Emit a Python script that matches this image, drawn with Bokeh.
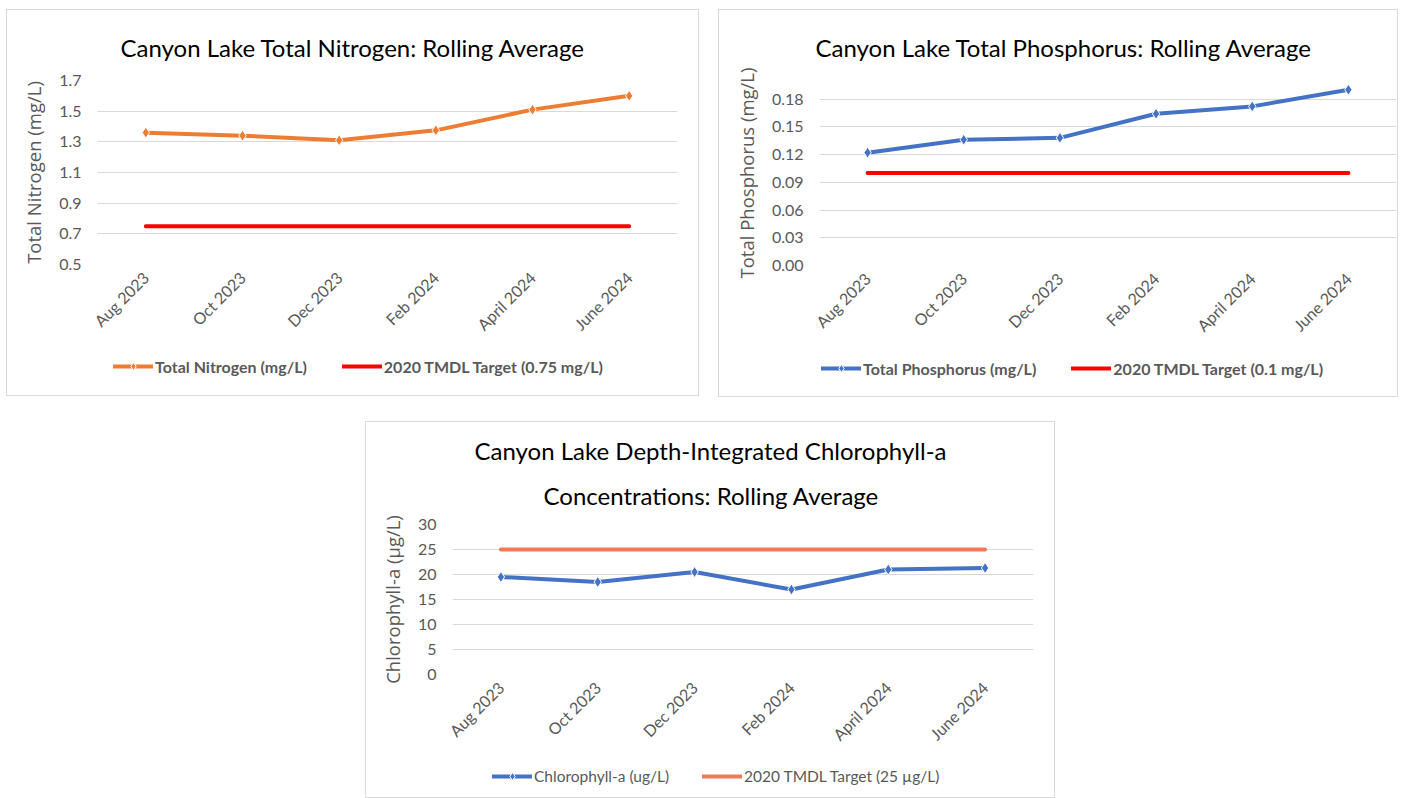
from bokeh.plotting import figure
from bokeh.models import (FixedTicker, NumeralTickFormatter, Legend, LegendItem,
                          Title, Spacer, Range1d)
from bokeh.layouts import row, column
from bokeh.embed import file_html
from bokeh.resources import INLINE
import math

# ---------------- data ----------------
months = ["Aug 2023", "Oct 2023", "Dec 2023", "Feb 2024", "April 2024", "June 2024"]

nitrogen = [1.36, 1.34, 1.31, 1.375, 1.51, 1.60]
nitrogen_target = [0.75, 0.75, 0.75, 0.75, 0.75, 0.75]
nitrogen_ticks = [0.5, 0.7, 0.9, 1.1, 1.3, 1.5, 1.7]

phosphorus = [0.122, 0.136, 0.138, 0.164, 0.172, 0.190]
phosphorus_target = [0.1, 0.1, 0.1, 0.1, 0.1, 0.1]
phosphorus_ticks = [0.0, 0.03, 0.06, 0.09, 0.12, 0.15, 0.18]

chlorophyll = [19.5, 18.5, 20.5, 17.0, 21.0, 21.3]
chlorophyll_target = [25, 25, 25, 25, 25, 25]
chlorophyll_ticks = [0, 5, 10, 15, 20, 25, 30]

TITLE_FONT = "Lato"
TICK_FONT = "Lato"
LABEL_FONT = "Open Sans"
GRAY = "#595959"
GRID = "#D9D9D9"
ORANGE = "#ED7D31"
BLUE = "#4472C4"
RED = "#FF0000"
SALMON = "#EF7A55"


def make_fig(width, height, y_range, ticks, ylabel, mb):
    p = figure(x_range=months, y_range=y_range, width=width, height=height,
               output_backend="svg", toolbar_location=None, title=None,
               min_border_left=mb[0], min_border_right=mb[1],
               min_border_top=mb[2], min_border_bottom=mb[3])
    p.outline_line_color = None
    p.background_fill_color = "white"
    p.border_fill_color = "white"
    p.xgrid.grid_line_color = None
    p.ygrid.grid_line_color = GRID
    p.ygrid.grid_line_width = 1
    p.yaxis.ticker = FixedTicker(ticks=ticks)
    for ax in (p.xaxis, p.yaxis):
        ax.axis_line_color = None
        ax.major_tick_line_color = None
        ax.minor_tick_line_color = None
        ax.major_tick_out = 0
        ax.major_tick_in = 0
        ax.minor_tick_out = 0
        ax.minor_tick_in = 0
        ax.major_label_text_font = TICK_FONT
        ax.major_label_text_font_size = "16px"
        ax.major_label_text_color = GRAY
    p.yaxis.major_label_standoff = 16
    p.xaxis.major_label_standoff = 10
    p.xaxis.major_label_orientation = math.pi / 4
    p.yaxis.axis_label = ylabel
    p.yaxis.axis_label_text_font = LABEL_FONT
    p.yaxis.axis_label_text_font_style = "normal"
    p.yaxis.axis_label_text_font_size = "18.5px"
    p.yaxis.axis_label_text_color = GRAY
    p.yaxis.axis_label_standoff = 10
    return p


def add_title(p, text, offset, standoff, valign):
    t = Title(text=text, align="left", offset=offset, text_font=TITLE_FONT,
              text_font_size="24px", text_font_style="normal",
              text_color="black", standoff=standoff, vertical_align=valign)
    p.add_layout(t, "above")


def add_series(p, values, target, color, tcolor):
    p.line(months, target, line_color=tcolor, line_width=4, line_cap="round")
    p.line(months, values, line_color=color, line_width=4, line_cap="round")
    p.scatter(months, values, marker="diamond", size=11, fill_color=color,
              line_color="white", line_width=1)


def legend_fig(width, height, values, target, color, tcolor, label, tlabel, bold,
               loc, spacing, fsize):
    # the view range lies far from the data, so only the legend swatches show
    q = figure(width=width, height=height, output_backend="svg",
               toolbar_location=None, title=None, x_axis_location=None,
               y_axis_location=None, x_range=months, y_range=Range1d(1000, 1001),
               min_border=0)
    q.outline_line_color = None
    q.grid.visible = False
    q.border_fill_color = "white"
    sl = q.line(months, values, line_color=color, line_width=4, line_cap="round")
    sm = q.scatter(months, values, marker="diamond", size=9, fill_color=color,
                   line_color="white", line_width=1)
    tl = q.line(months, target, line_color=tcolor, line_width=4, line_cap="round")
    legend = Legend(items=[LegendItem(label=label, renderers=[sl, sm]),
                           LegendItem(label=tlabel, renderers=[tl])],
                    orientation="horizontal", location=loc, padding=0, margin=0,
                    spacing=spacing, glyph_width=40, glyph_height=20,
                    label_standoff=2, border_line_color=None,
                    background_fill_alpha=0,
                    label_text_font=TICK_FONT, label_text_font_size=fsize,
                    label_text_font_style="bold" if bold else "normal",
                    label_text_color=GRAY)
    q.add_layout(legend, "center")
    return q


BOX = {"outline": "1px solid #D9D9D9"}

# ---- Nitrogen ----
p1 = make_fig(691, 335, (0.5, 1.7), nitrogen_ticks, "Total Nitrogen (mg/L)",
              (90, 21, 70, 81))
add_title(p1, "Canyon Lake Total Nitrogen: Rolling Average", 23, 36, "middle")
add_series(p1, nitrogen, nitrogen_target, ORANGE, RED)
l1 = legend_fig(691, 50, nitrogen, nitrogen_target, ORANGE, RED,
                "Total Nitrogen (mg/L)", "2020 TMDL Target (0.75 mg/L)", True,
                (16, 19), 35, "16px")
c1 = column(p1, l1, styles=BOX)

# ---- Phosphorus ----
p2 = make_fig(678, 336, (0.0, 0.2), phosphorus_ticks, "Total Phosphorus (mg/L)",
              (100, 1, 70, 81))
p2.yaxis.formatter = NumeralTickFormatter(format="0.00")
add_title(p2, "Canyon Lake Total Phosphorus: Rolling Average", -4, 36, "middle")
add_series(p2, phosphorus, phosphorus_target, BLUE, RED)
l2 = legend_fig(678, 50, phosphorus, phosphorus_target, BLUE, RED,
                "Total Phosphorus (mg/L)", "2020 TMDL Target (0.1 mg/L)", True,
                (2, 18), 35, "16px")
c2 = column(p2, l2, styles=BOX)

# ---- Chlorophyll ----
p3 = make_fig(688, 332, (0, 30), chlorophyll_ticks, "Chlorophyll-a (\u00b5g/L)",
              (86, 21, 102, 80))
add_title(p3, "Concentrations: Rolling Average", 91, 28, "middle")
add_title(p3, "Canyon Lake Depth-Integrated Chlorophyll-a", 22, 0, "middle")
add_series(p3, chlorophyll, chlorophyll_target, BLUE, SALMON)
l3 = legend_fig(688, 43, chlorophyll, chlorophyll_target, BLUE, SALMON,
                "Chlorophyll-a (ug/L)", "2020 TMDL Target (25 \u00b5g/L)", False,
                (40, 11), 33, "15.5px")
c3 = column(p3, l3, styles=BOX)

top = row(Spacer(width=7), c1, Spacer(width=21), c2)
bottom = row(Spacer(width=366), c3)
layout = column(Spacer(height=10), top, Spacer(height=26), bottom)

open("out.html", "w").write(file_html(layout, INLINE))
